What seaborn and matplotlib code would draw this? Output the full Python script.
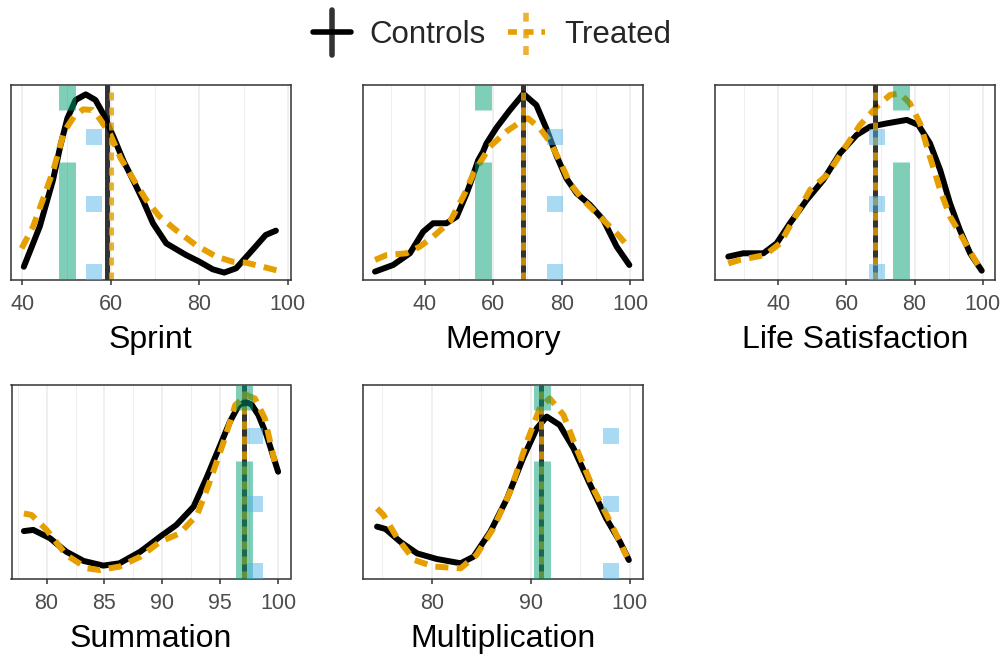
import numpy as np
import pandas as pd
import matplotlib
matplotlib.use("Agg")
import matplotlib.pyplot as plt
import seaborn as sns
from matplotlib.lines import Line2D
from matplotlib.legend_handler import HandlerBase
from matplotlib.ticker import MultipleLocator

GROUPS = ["Controls", "Treated"]
PALETTE = {"Controls": "black", "Treated": "#E69F00"}
GREEN = "#009E73"
BLUE = "#56B4E9"

# density curves, y given as share of the panel height
sprint_ctrl_x = [40.3, 43.9, 46.9, 48.6, 50.15, 52.0, 54.3, 56.5, 58.4, 60.7, 62.9, 65.2, 67.2, 69.5,
                 72.5, 77.0, 80.0, 83.0, 85.6, 88.3, 92.0, 95.0, 97.3]
sprint_ctrl_y = [0.068, 0.274, 0.513, 0.692, 0.829, 0.923, 0.952, 0.923, 0.846, 0.727, 0.607, 0.504, 0.41,
                 0.291, 0.188, 0.128, 0.094, 0.055, 0.038, 0.06, 0.154, 0.231, 0.253]
sprint_trt_x = [39.8, 42.4, 45.4, 47.1, 49.4, 51.6, 53.7, 55.8, 57.4, 59.9, 62.2, 65.3, 68.0, 71.0,
                74.7, 79.2, 83.8, 87.5, 90.5, 94.3, 97.7]
sprint_trt_y = [0.162, 0.274, 0.462, 0.573, 0.761, 0.837, 0.875, 0.872, 0.829, 0.744, 0.624, 0.508, 0.41,
                0.325, 0.256, 0.179, 0.12, 0.094, 0.089, 0.068, 0.048]

memory_ctrl_x = [25.4, 30.7, 35.6, 39.5, 42.4, 46.3, 49.3, 52.2, 53.1, 55.6, 57.0, 58.0, 60.9, 64.8,
                 68.8, 72.6, 75.5, 78.4, 81.4, 84.4, 88.3, 92.2, 96.1, 99.8]
memory_ctrl_y = [0.043, 0.077, 0.137, 0.248, 0.291, 0.291, 0.325, 0.444, 0.487, 0.615, 0.658, 0.7, 0.78,
                 0.87, 0.955, 0.897, 0.778, 0.641, 0.521, 0.444, 0.385, 0.308, 0.171, 0.077]
memory_trt_x = [25.4, 28.8, 34.6, 38.5, 42.4, 47.3, 51.2, 54.3, 59.0, 64.1, 68.8, 70.2, 73.6,
                76.6, 80.0, 82.4, 86.3, 91.2, 96.1, 100.0]
memory_trt_y = [0.103, 0.128, 0.137, 0.171, 0.222, 0.299, 0.427, 0.55, 0.684, 0.765, 0.821, 0.829, 0.778,
                0.709, 0.59, 0.496, 0.41, 0.325, 0.239, 0.162]

life_ctrl_x = [25.3, 29.7, 35.6, 39.5, 43.4, 48.3, 53.2, 58.1, 63.0, 66.9, 71.8, 77.7, 81.1,
               84.5, 87.5, 90.4, 93.3, 96.3, 99.7]
life_ctrl_y = [0.12, 0.137, 0.137, 0.188, 0.291, 0.41, 0.513, 0.65, 0.744, 0.786, 0.803, 0.821, 0.795,
               0.701, 0.564, 0.393, 0.256, 0.137, 0.048]
life_trt_x = [25.3, 28.7, 36.1, 40.5, 44.4, 49.3, 54.2, 59.1, 64.0, 68.9, 72.8, 75.7, 78.6,
              81.6, 84.5, 87.5, 90.4, 93.3, 96.3, 99.2]
life_trt_y = [0.085, 0.103, 0.128, 0.188, 0.308, 0.462, 0.538, 0.667, 0.795, 0.889, 0.949, 0.957, 0.906,
              0.803, 0.632, 0.462, 0.325, 0.239, 0.145, 0.06]

summ_ctrl_x = [78.04, 78.85, 80.3, 81.7, 83.2, 84.9, 86.3, 88.1, 89.8, 91.2, 92.7, 93.8, 95.0,
               95.83, 96.6, 97.2, 97.7, 98.3, 99.0, 100.0]
summ_ctrl_y = [0.247, 0.253, 0.21, 0.141, 0.093, 0.069, 0.081, 0.141, 0.218, 0.278, 0.373, 0.519, 0.69,
               0.81, 0.895, 0.912, 0.9, 0.845, 0.742, 0.553]
summ_trt_x = [78.04, 78.7, 80.0, 81.7, 83.5, 84.6, 86.3, 88.1, 89.8, 91.5, 93.0, 94.1, 95.3,
              96.3, 97.3, 98.0, 98.85, 99.7]
summ_trt_y = [0.338, 0.33, 0.253, 0.124, 0.055, 0.046, 0.064, 0.115, 0.192, 0.235, 0.33, 0.502, 0.708,
              0.897, 0.948, 0.93, 0.828, 0.605]

mult_ctrl_x = [74.45, 75.3, 76.8, 78.5, 80.5, 82.9, 84.2, 85.9, 87.6, 89.2, 90.6, 91.6, 92.9,
               94.3, 96.0, 97.6, 99.0, 99.9]
mult_ctrl_y = [0.27, 0.258, 0.192, 0.132, 0.103, 0.081, 0.115, 0.244, 0.416, 0.622, 0.777, 0.837, 0.794,
               0.674, 0.485, 0.313, 0.192, 0.098]
mult_trt_x = [74.45, 75.1, 76.5, 78.2, 80.2, 82.9, 84.5, 86.2, 87.9, 89.6, 90.9, 91.9, 93.3,
              94.6, 96.3, 98.0, 99.7]
mult_trt_y = [0.364, 0.33, 0.21, 0.098, 0.064, 0.055, 0.124, 0.261, 0.45, 0.708, 0.88, 0.931, 0.845,
              0.674, 0.467, 0.296, 0.115]

# medians (Controls, Treated)
sprint_medians = [59.1, 60.1]
memory_medians = [68.8, 68.8]
life_medians = [68.3, 68.5]
summ_medians = [97.04, 97.04]
mult_medians = [91.0, 91.0]

# green bars and blue squares
green_x = [50.1, 57.05, 75.95, 97.02, 91.08]
blue_x = [56.1, 77.95, 69.05, 98.02, 98.05]
green_lo = [0.87, -0.05]
green_hi = [1.05, 0.606]
blue_levels = [0.735, 0.388, 0.04]

titles = ["Sprint", "Memory", "Life Satisfaction", "Summation", "Multiplication"]
curves = [
    (sprint_ctrl_x, sprint_ctrl_y, sprint_trt_x, sprint_trt_y),
    (memory_ctrl_x, memory_ctrl_y, memory_trt_x, memory_trt_y),
    (life_ctrl_x, life_ctrl_y, life_trt_x, life_trt_y),
    (summ_ctrl_x, summ_ctrl_y, summ_trt_x, summ_trt_y),
    (mult_ctrl_x, mult_ctrl_y, mult_trt_x, mult_trt_y),
]
medians = [sprint_medians, memory_medians, life_medians, summ_medians, mult_medians]

xlims = [(37.4, 100.6), (21.8, 103.8), (21.4, 103.6), (76.97, 101.07), (73.0, 101.3)]
major_steps = [20, 20, 20, 5, 10]

W, H = 1008, 654
panel_boxes = [  # left, top, right, bottom in pixels
    (11, 85, 290.5, 280), (362.7, 85, 643, 280), (715, 85, 995, 280),
    (11.5, 385, 290.5, 579), (362.7, 385, 642.7, 579),
]

TREATED_DASH = (2.2, 1.4)
VLINE_DASH = (1.6, 1.4)


class CrossHandler(HandlerBase):
    # legend key: horizontal path + vertical rule, like the panels
    def create_artists(self, legend, orig, xd, yd, w, h, fontsize, trans):
        kw = dict(color=orig.get_color(), lw=orig.get_linewidth(), transform=trans)
        dashed = orig.get_label() == "Treated"
        cx, cy = w / 2 - xd, h / 2 - yd
        hl = Line2D([-xd, w - xd], [cy, cy], **kw)
        vl = Line2D([cx, cx], [cy - 0.72 * fontsize, cy + 0.72 * fontsize], alpha=0.8, **kw)
        if dashed:
            hl.set_dashes(VLINE_DASH)
            vl.set_dashes(VLINE_DASH)
        return [hl, vl]


def main():
    sns.set_style("white")
    plt.rcParams["font.family"] = ["Liberation Sans", "DejaVu Sans"]

    fig = plt.figure(figsize=(W / 100, H / 100), dpi=100)

    for i, title in enumerate(titles):
        l, t, r, b = panel_boxes[i]
        ax = fig.add_axes([l / W, 1 - b / H, (r - l) / W, (b - t) / H])

        cx, cy, tx, ty = curves[i]
        df = pd.DataFrame({
            "x": list(cx) + list(tx),
            "y": list(cy) + list(ty),
            "group": ["Controls"] * len(cx) + ["Treated"] * len(tx),
        })
        sns.lineplot(data=df, x="x", y="y", hue="group", style="group", palette=PALETTE,
                     dashes={"Controls": "", "Treated": TREATED_DASH}, sort=False, estimator=None,
                     lw=4.3, legend=False, ax=ax)
        for ln in ax.lines:
            ln.set_solid_joinstyle("round")
            ln.set_dash_joinstyle("round")

        # median lines
        for g, med in zip(GROUPS, medians[i]):
            ax.axvline(med, color=PALETTE[g], alpha=0.8, lw=3.6, zorder=2.5,
                       dashes=VLINE_DASH if g == "Treated" else (None, None))

        vl = ax.vlines([green_x[i]] * 2, green_lo, green_hi, color=GREEN, alpha=0.5, lw=12.2, zorder=3)
        vl.set_capstyle("butt")
        ax.scatter([blue_x[i]] * 3, blue_levels, marker="s", s=12.2 ** 2, color=BLUE, alpha=0.5,
                   linewidths=0, zorder=3)

        ax.set_xlim(*xlims[i])
        ax.set_ylim(0, 1)
        ax.set_yticks([])
        ax.set_ylabel("")
        ax.xaxis.set_major_locator(MultipleLocator(major_steps[i]))
        ax.xaxis.set_minor_locator(MultipleLocator(major_steps[i] / 2))
        ax.grid(axis="x", which="major", color="#EBEBEB", lw=1.1)
        ax.grid(axis="x", which="minor", color="#EBEBEB", lw=0.6)
        ax.set_axisbelow(True)
        ax.tick_params(axis="x", which="major", bottom=True, length=3.5, width=1.1, color="#333333",
                       labelsize=15.5, labelcolor="#4D4D4D", pad=6.5)
        ax.tick_params(axis="x", which="minor", bottom=False)
        for sp in ax.spines.values():
            sp.set_color("#333333")
            sp.set_linewidth(1.1)
        ax.set_xlabel(title, fontsize=23, color="black", labelpad=7.5)

    handles = [Line2D([], [], color=PALETTE[g], lw=4, label=g) for g in GROUPS]
    fig.legend(handles, GROUPS, handler_map={Line2D: CrossHandler()}, ncol=2, loc="center",
               bbox_to_anchor=(492 / W, 1 - 35 / H), frameon=False, fontsize=22.5,
               handlelength=1.2, handletextpad=0.6, columnspacing=0.7)

    fig.savefig("out.png", dpi=100)
    plt.close(fig)


if __name__ == "__main__":
    main()
